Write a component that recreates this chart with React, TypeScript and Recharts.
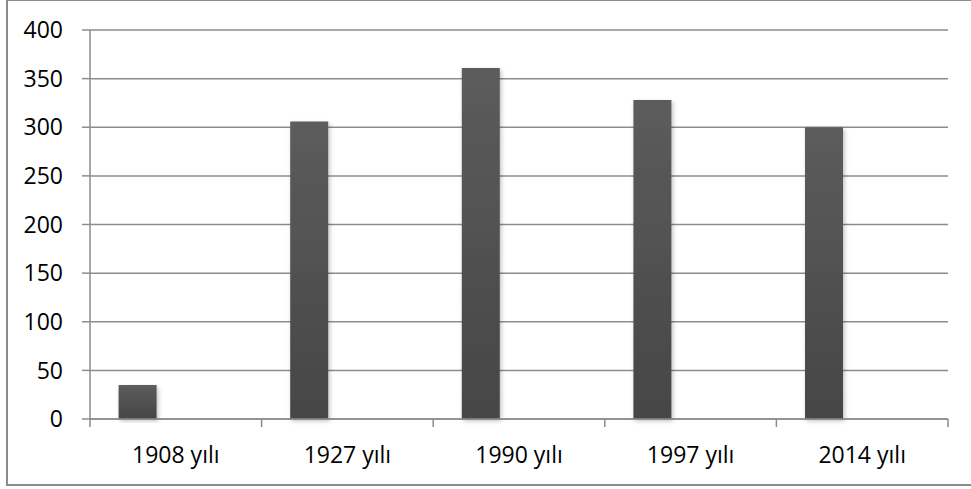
import React from 'react';
import { BarChart, Bar, XAxis, YAxis, CartesianGrid } from 'recharts';

const categories = ['1908 yılı', '1927 yılı', '1990 yılı', '1997 yılı', '2014 yılı'];
const series1 = [35, 306, 361, 328, 300];
const series2: (number | null)[] = [null, null, null, null, null];
const series3: (number | null)[] = [null, null, null, null, null];
const yTicks = [0, 50, 100, 150, 200, 250, 300, 350, 400];

const data = categories.map((name, i) => ({
  name,
  s1: series1[i],
  s2: series2[i],
  s3: series3[i],
}));

const LINE = '#8c8c8c';
const FONT = '"Open Sans", "Liberation Sans", sans-serif';
const TICK_SIZE = 8;
const TICK_MARGIN = 20;
const FONT_SIZE = 23;

function CategoryTick(props: any) {
  const { x, y, payload, width, visibleTicksCount, index } = props;
  const count = visibleTicksCount || categories.length;
  const band = Number(width) / count;
  const axisY = y - TICK_SIZE - TICK_MARGIN;
  const left = x - band / 2;
  const right = x + band / 2;
  return (
    <g>
      {Number.isFinite(band) && (
        <line x1={left} x2={left} y1={axisY} y2={axisY + TICK_SIZE} stroke={LINE} strokeWidth={1.5} />
      )}
      {Number.isFinite(band) && index === count - 1 && (
        <line x1={right} x2={right} y1={axisY} y2={axisY + TICK_SIZE} stroke={LINE} strokeWidth={1.5} />
      )}
      <text
        x={x}
        y={y}
        dy="0.71em"
        textAnchor="middle"
        fill="#000"
        fontSize={FONT_SIZE}
        fontFamily={FONT}
      >
        {payload.value}
      </text>
    </g>
  );
}

export default function App() {
  return (
    <div style={{ position: 'absolute', left: 0, top: 0, width: 971, height: 489, background: '#fff', overflow: 'hidden' }}>
      <div
        style={{
          position: 'absolute',
          left: 6,
          top: -1,
          width: 990,
          height: 487,
          border: `2px solid ${LINE}`,
          boxSizing: 'border-box',
        }}
      />
      <div style={{ position: 'absolute', left: 0, top: 0 }}>
        <BarChart
          width={971}
          height={489}
          data={data}
          margin={{ top: 30, right: 23, bottom: 10, left: 0 }}
          barCategoryGap="16.67%"
          barGap={0}
        >
          <defs>
            <linearGradient id="barGrad" x1="0" y1="0" x2="0" y2="1">
              <stop offset="0%" stopColor="#5c5c5c" />
              <stop offset="100%" stopColor="#464646" />
            </linearGradient>
            <filter id="barShadow" x="-20%" y="-5%" width="150%" height="115%">
              <feDropShadow dx="1.5" dy="2" stdDeviation="2" floodColor="#000" floodOpacity="0.25" />
            </filter>
          </defs>
          <CartesianGrid horizontal vertical={false} stroke={LINE} strokeWidth={1.5} />
          <XAxis
            dataKey="name"
            type="category"
            height={60}
            tickLine={false}
            tickSize={TICK_SIZE}
            tickMargin={TICK_MARGIN}
            axisLine={{ stroke: LINE, strokeWidth: 1.5 }}
            tick={<CategoryTick />}
            interval={0}
          />
          <YAxis
            width={90}
            domain={[0, 400]}
            ticks={yTicks}
            interval={0}
            tickSize={8}
            tickMargin={19}
            tickLine={{ stroke: LINE, strokeWidth: 1.5 }}
            axisLine={{ stroke: LINE, strokeWidth: 1.5 }}
            tick={{ fill: '#000', fontSize: FONT_SIZE, fontFamily: FONT }}
          />
          <Bar dataKey="s1" fill="url(#barGrad)" filter="url(#barShadow)" isAnimationActive={false} />
          <Bar dataKey="s2" fill="url(#barGrad)" isAnimationActive={false} />
          <Bar dataKey="s3" fill="url(#barGrad)" isAnimationActive={false} />
        </BarChart>
      </div>
    </div>
  );
}
